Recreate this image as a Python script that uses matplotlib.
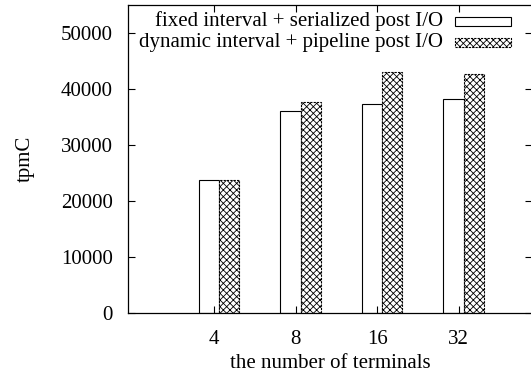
import matplotlib
matplotlib.use("Agg")
from matplotlib import pyplot as plt
from matplotlib.patches import Rectangle
import numpy as np

plt.rcParams['font.family'] = ['Liberation Serif', 'DejaVu Serif']
plt.rcParams['hatch.linewidth'] = 0.6

terminals = ['4', '8', '16', '32']
fixed_serialized = [23800, 36100, 37300, 38200]
dynamic_pipeline = [23800, 37700, 43000, 42650]
series_labels = ['fixed interval + serialized post I/O',
                 'dynamic interval + pipeline post I/O']

fig = plt.figure(figsize=(5.31, 3.76), dpi=100)
ax = fig.add_axes([128 / 531, 1 - 313 / 376, 404 / 531, 308 / 376])

x = np.arange(len(terminals))
w = 0.25
ax.bar(x - w / 2, fixed_serialized, w, color='white', edgecolor='black', linewidth=0.8)
ax.bar(x + w / 2, dynamic_pipeline, w, color='white', edgecolor='black', linewidth=0.8,
       hatch='xxxxx', linestyle=(0, (2, 1)))

ax.set_xlim(-1.117, 3.84)
ax.set_ylim(0, 55000)
ax.set_yticks(range(0, 50001, 10000))
ax.set_xticks(x - 0.06)
ax.set_xticklabels(terminals)
ax.tick_params(direction='in', length=5, width=0.8, labelsize=15,
               top=True, right=True)
ax.tick_params(axis='y', pad=11)
ax.tick_params(axis='x', pad=12)
for s in ax.spines.values():
    s.set_linewidth(0.9)

ax.set_xlabel('the number of terminals', fontsize=15, labelpad=4)
ax.set_ylabel('tpmC', fontsize=15, labelpad=19)

# legend drawn by hand (gnuplot style: text right-aligned, sample on the right)
for i, (lab, hatch) in enumerate(zip(series_labels, [None, 'xxxxx'])):
    yc = 1 - (21 + 21 * i) / 376
    fig.text(443 / 531, yc, lab, ha='right', va='center', fontsize=15)
    r = Rectangle((455 / 531, yc - 4.5 / 376), 56 / 531, 9 / 376,
                  transform=fig.transFigure, facecolor='white', edgecolor='black',
                  linewidth=0.8, hatch=hatch,
                  linestyle='-' if hatch is None else (0, (2, 1)))
    fig.patches.append(r)

fig.savefig('out.png', dpi=100)
